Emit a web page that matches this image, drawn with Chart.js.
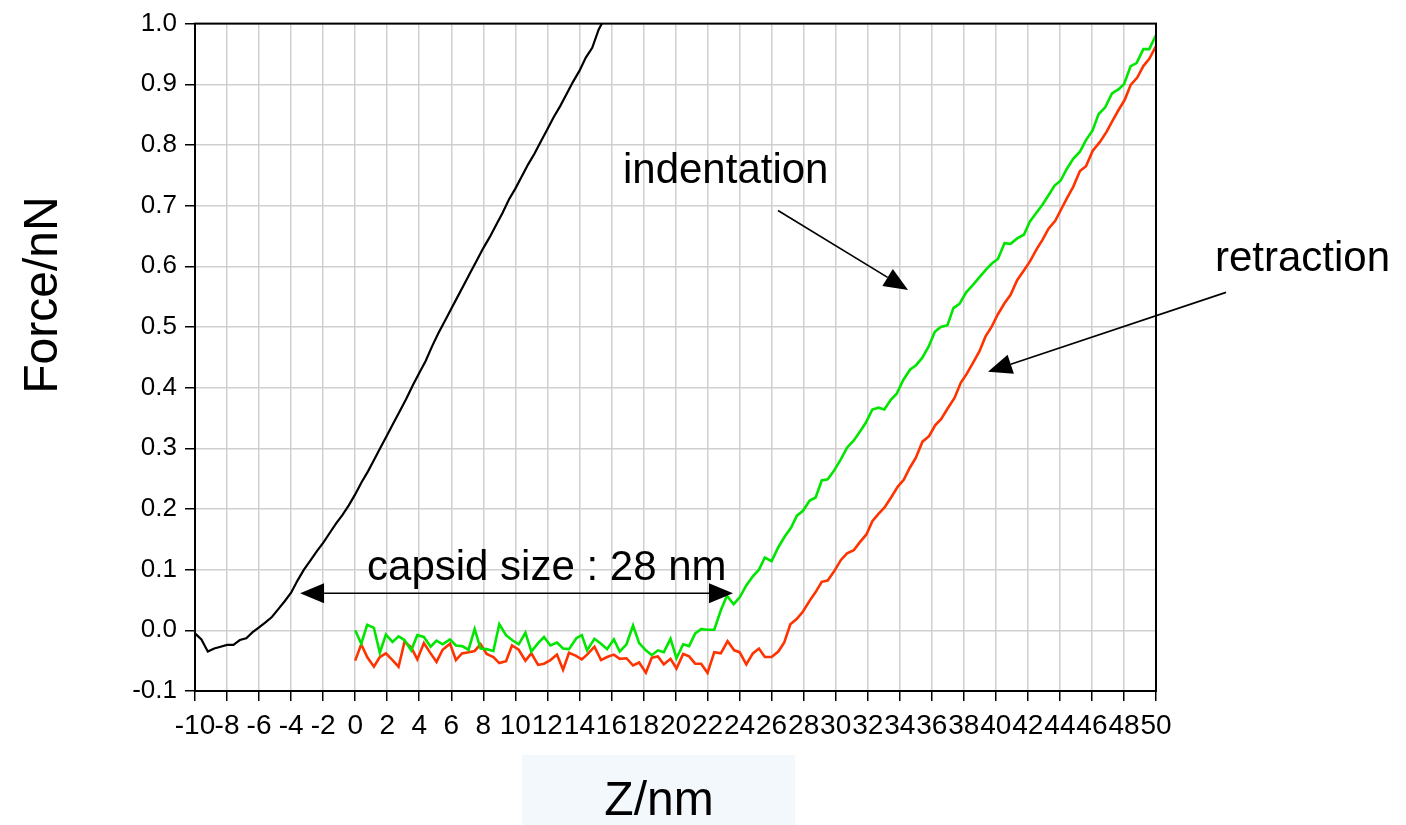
<!DOCTYPE html>
<html>
<head>
<meta charset="utf-8">
<script src="https://cdn.jsdelivr.net/npm/chart.js@4.4.1/dist/chart.umd.min.js"></script>
<style>
  body { margin: 0; background: #fff; }
  canvas { display: block; }
</style>
</head>
<body>
<canvas id="silaGraf" width="1406" height="825"></canvas>
<script>
// podaci procitani sa slike (Z u nm, sila u nN)
const crnaZ = [-10, -9.6, -9.2, -8.8, -8.4, -8.0, -7.6, -7.2, -6.8, -6.4, -6.0, -5.6, -5.2, -4.8, -4.4, -4.0,
    -3.6, -3.2, -2.8, -2.4, -2.0, -1.6, -1.2, -0.8, -0.4, 0.0, 0.4, 0.8, 1.2, 1.6, 2.0, 2.4, 2.8, 3.2, 3.6,
    4.0, 4.4, 4.8, 5.2, 5.6, 6.0, 6.4, 6.8, 7.2, 7.6, 8.0, 8.4, 8.8, 9.2, 9.6, 10.0, 10.4, 10.8, 11.2, 11.6,
    12.0, 12.4, 12.8, 13.2, 13.6, 14.0, 14.4, 14.8, 15.2, 15.6];
const crnaSila = [-0.005, -0.015, -0.035, -0.03, -0.027, -0.024, -0.024, -0.016, -0.013, -0.003, 0.005, 0.013,
    0.022, 0.035, 0.048, 0.062, 0.082, 0.1, 0.115, 0.13, 0.144, 0.16, 0.176, 0.19, 0.206, 0.224, 0.244, 0.262,
    0.282, 0.302, 0.322, 0.342, 0.362, 0.382, 0.404, 0.424, 0.444, 0.468, 0.49, 0.51, 0.53, 0.55, 0.57, 0.59,
    0.61, 0.63, 0.648, 0.668, 0.688, 0.71, 0.728, 0.748, 0.768, 0.786, 0.806, 0.826, 0.846, 0.864, 0.884,
    0.904, 0.922, 0.944, 0.96, 0.99, 1.01];

const zelenaZ = [0.0, 0.38, 0.75, 1.17, 1.54, 1.92, 2.33, 2.71, 3.08, 3.5, 3.88, 4.29, 4.71, 5.08, 5.46, 5.92,
    6.29, 6.67, 7.08, 7.46, 7.83, 8.21, 8.63, 9.0, 9.42, 9.79, 10.21, 10.63, 11.0, 11.42, 11.79, 12.19, 12.6,
    12.98, 13.35, 13.81, 14.15, 14.48, 14.94, 15.35, 15.73, 16.15, 16.52, 16.94, 17.35, 17.73, 18.15, 18.52,
    18.9, 19.27, 19.69, 20.06, 20.48, 20.85, 21.23, 21.6, 22.0, 22.42, 22.83, 23.21, 23.63, 24.0, 24.42,
    24.83, 25.21, 25.58, 26.0, 26.42, 26.83, 27.21, 27.58, 27.96, 28.38, 28.75, 29.13, 29.5, 29.92, 30.33,
    30.71, 31.13, 31.5, 31.88, 32.29, 32.67, 33.04, 33.44, 33.81, 34.23, 34.65, 35.02, 35.4, 35.81, 36.19,
    36.56, 36.98, 37.35, 37.73, 38.15, 38.56, 38.98, 39.4, 39.77, 40.13, 40.54, 40.92, 41.33, 41.75, 42.13,
    42.5, 42.92, 43.29, 43.67, 44.04, 44.42, 44.83, 45.25, 45.63, 46.04, 46.42, 46.83, 47.25, 47.67, 48.0,
    48.42, 48.79, 49.21, 49.58, 50.0];
const zelenaSila = [0.0, -0.022, 0.009, 0.004, -0.037, -0.007, -0.019, -0.01, -0.016, -0.033, -0.008, -0.011,
    -0.027, -0.017, -0.023, -0.015, -0.025, -0.026, -0.032, 0.002, -0.03, -0.031, -0.034, 0.01, -0.008,
    -0.016, -0.023, -0.004, -0.035, -0.021, -0.011, -0.025, -0.02, -0.03, -0.031, -0.013, -0.008, -0.033,
    -0.014, -0.022, -0.031, -0.015, -0.035, -0.023, 0.008, -0.021, -0.033, -0.041, -0.033, -0.036, -0.014,
    -0.046, -0.023, -0.026, -0.005, 0.002, 0.001, 0.001, 0.033, 0.057, 0.043, 0.054, 0.074, 0.089, 0.1, 0.12,
    0.114, 0.137, 0.155, 0.169, 0.189, 0.197, 0.214, 0.219, 0.247, 0.249, 0.264, 0.282, 0.301, 0.313, 0.327,
    0.342, 0.364, 0.367, 0.364, 0.38, 0.39, 0.413, 0.43, 0.437, 0.449, 0.468, 0.492, 0.5, 0.503, 0.531, 0.538,
    0.557, 0.569, 0.582, 0.595, 0.605, 0.612, 0.638, 0.637, 0.646, 0.652, 0.674, 0.687, 0.702, 0.717, 0.733,
    0.741, 0.76, 0.777, 0.789, 0.808, 0.824, 0.851, 0.862, 0.885, 0.892, 0.9, 0.93, 0.935, 0.958, 0.958, 0.981];

const crvenaZ = [0.0, 0.38, 0.75, 1.17, 1.54, 1.92, 2.33, 2.71, 3.08, 3.5, 3.88, 4.29, 4.71, 5.08, 5.46, 5.92,
    6.29, 6.67, 7.08, 7.46, 7.83, 8.21, 8.63, 9.0, 9.42, 9.79, 10.21, 10.63, 11.0, 11.42, 11.79, 12.19, 12.6,
    12.98, 13.35, 13.79, 14.15, 14.48, 14.94, 15.35, 15.73, 16.15, 16.52, 16.94, 17.35, 17.73, 18.15, 18.52,
    18.9, 19.27, 19.69, 20.06, 20.48, 20.85, 21.23, 21.6, 22.0, 22.42, 22.83, 23.25, 23.67, 24.0, 24.42,
    24.83, 25.21, 25.58, 26.0, 26.42, 26.79, 27.17, 27.58, 27.96, 28.38, 28.75, 29.13, 29.5, 29.92, 30.33,
    30.71, 31.13, 31.5, 31.92, 32.29, 32.67, 33.04, 33.46, 33.88, 34.25, 34.63, 35.0, 35.42, 35.83, 36.21,
    36.58, 37.0, 37.42, 37.81, 38.19, 38.6, 38.98, 39.35, 39.73, 40.13, 40.54, 40.92, 41.33, 41.75, 42.13,
    42.54, 42.92, 43.29, 43.71, 44.08, 44.46, 44.83, 45.25, 45.63, 46.04, 46.5, 46.92, 47.29, 47.67, 48.04,
    48.42, 48.83, 49.21, 49.58, 50.0];
const crvenaSila = [-0.05, -0.023, -0.044, -0.06, -0.044, -0.038, -0.049, -0.06, -0.019, -0.028, -0.048,
    -0.021, -0.038, -0.052, -0.032, -0.022, -0.049, -0.038, -0.036, -0.034, -0.023, -0.039, -0.044, -0.054,
    -0.051, -0.025, -0.032, -0.05, -0.038, -0.057, -0.055, -0.049, -0.04, -0.065, -0.037, -0.042, -0.048,
    -0.04, -0.027, -0.049, -0.044, -0.04, -0.047, -0.046, -0.058, -0.053, -0.07, -0.045, -0.043, -0.056,
    -0.047, -0.063, -0.039, -0.043, -0.055, -0.055, -0.07, -0.036, -0.038, -0.018, -0.033, -0.036, -0.056,
    -0.038, -0.03, -0.044, -0.044, -0.035, -0.02, 0.01, 0.019, 0.031, 0.049, 0.063, 0.08, 0.082, 0.098, 0.116,
    0.127, 0.132, 0.145, 0.158, 0.18, 0.192, 0.202, 0.219, 0.237, 0.248, 0.268, 0.284, 0.311, 0.32, 0.338,
    0.348, 0.366, 0.383, 0.408, 0.423, 0.442, 0.46, 0.484, 0.5, 0.521, 0.539, 0.553, 0.577, 0.593, 0.608,
    0.628, 0.644, 0.662, 0.675, 0.694, 0.713, 0.731, 0.757, 0.765, 0.79, 0.805, 0.822, 0.84, 0.858, 0.874,
    0.899, 0.911, 0.93, 0.942, 0.963];

const xOsa = { min: -10, max: 50, korak: 2 };
const yOsa = { min: -0.1, max: 1.0, korak: 0.1 };

const FONT = '"Liberation Sans", Arial, sans-serif';

function tacke(zs, sile) {
    return zs.map((z, i) => ({ x: z, y: sile[i] }));
}

function strelica(ctx, x1, y1, x2, y2, obje) {
    const ugao = Math.atan2(y2 - y1, x2 - x1);
    const duz = 24, pola = 10;
    ctx.beginPath();
    ctx.moveTo(obje ? x1 + Math.cos(ugao) * duz : x1, obje ? y1 + Math.sin(ugao) * duz : y1);
    ctx.lineTo(x2 - Math.cos(ugao) * duz, y2 - Math.sin(ugao) * duz);
    ctx.stroke();
    const glava = (tx, ty, a) => {
        ctx.beginPath();
        ctx.moveTo(tx, ty);
        ctx.lineTo(tx - Math.cos(a) * duz - Math.sin(a) * pola, ty - Math.sin(a) * duz + Math.cos(a) * pola);
        ctx.lineTo(tx - Math.cos(a) * duz + Math.sin(a) * pola, ty - Math.sin(a) * duz - Math.cos(a) * pola);
        ctx.closePath();
        ctx.fill();
    };
    glava(x2, y2, ugao);
    if (obje) glava(x1, y1, ugao + Math.PI);
}

// natpisi i strelice, polozaj u jedinicama osa
const natpisi = {
    id: 'natpisi',
    afterDatasetsDraw(chart) {
        const ctx = chart.ctx;
        const sx = chart.scales.x, sy = chart.scales.y;
        const px = v => sx.getPixelForValue(v);
        const py = v => sy.getPixelForValue(v);
        ctx.save();
        ctx.fillStyle = '#000';
        ctx.strokeStyle = '#000';
        ctx.lineWidth = 1.6;
        ctx.font = '42px ' + FONT;
        ctx.textBaseline = 'alphabetic';
        ctx.textAlign = 'left';
        ctx.fillText('indentation', px(16.72), py(0.738));
        ctx.fillText('retraction', px(53.68), py(0.592));
        ctx.fillText('capsid size : 28 nm', px(0.74), py(0.083));
        strelica(ctx, px(26.4), py(0.692), px(34.52), py(0.561), false);
        strelica(ctx, px(54.37), py(0.557), px(39.51), py(0.426), false);
        strelica(ctx, px(-3.44), py(0.061), px(23.59), py(0.061), true);
        ctx.restore();
    },
    afterDraw(chart) {
        const ctx = chart.ctx;
        const a = chart.chartArea;
        ctx.save();
        // okvir oko grafa
        ctx.strokeStyle = '#000';
        ctx.lineWidth = 2;
        ctx.strokeRect(a.left, a.top, a.right - a.left, a.bottom - a.top);
        // naslov x ose sa pozadinom
        ctx.fillStyle = '#f3f8fc';
        ctx.fillRect(522, 755, 273, 70);
        ctx.fillStyle = '#000';
        ctx.font = '48px ' + FONT;
        ctx.textAlign = 'center';
        ctx.textBaseline = 'alphabetic';
        ctx.fillText('Z/nm', 659, 815);
        // naslov y ose
        ctx.translate(57, 295);
        ctx.rotate(-Math.PI / 2);
        ctx.fillText('Force/nN', 0, 0);
        ctx.restore();
    }
};

const ctx = document.getElementById('silaGraf').getContext('2d');
const grafik = new Chart(ctx, {
    type: 'scatter',
    data: {
        datasets: [
            { label: 'approach', data: tacke(crnaZ, crnaSila), borderColor: '#000000', borderWidth: 2.2 },
            { label: 'indentation', data: tacke(zelenaZ, zelenaSila), borderColor: '#00e600', borderWidth: 2.6 },
            { label: 'retraction', data: tacke(crvenaZ, crvenaSila), borderColor: '#ff3300', borderWidth: 2.6 }
        ].map(d => Object.assign(d, { showLine: true, pointRadius: 0, fill: false, tension: 0 }))
    },
    options: {
        responsive: false,
        animation: false,
        layout: { padding: { top: 20, right: 250, left: 0, bottom: 0 } },
        plugins: { legend: { display: false }, tooltip: { enabled: false } },
        scales: {
            x: {
                type: 'linear',
                min: xOsa.min,
                max: xOsa.max,
                afterFit: s => { s.height = 134; },
                ticks: {
                    stepSize: xOsa.korak,
                    autoSkip: false,
                    maxRotation: 0,
                    color: '#000',
                    padding: 8,
                    font: { family: FONT, size: 28 }
                },
                grid: { color: '#d0d0d0', lineWidth: 1.5, tickColor: '#000', tickLength: 10, tickWidth: 1.5 },
                border: { color: '#000', width: 2 }
            },
            y: {
                type: 'linear',
                min: yOsa.min,
                max: yOsa.max,
                afterFit: s => { s.width = 195; },
                ticks: {
                    stepSize: yOsa.korak,
                    color: '#000',
                    padding: 8,
                    font: { family: FONT, size: 26 },
                    callback: v => v.toFixed(1)
                },
                grid: { color: '#d0d0d0', lineWidth: 1.5, tickColor: '#000', tickLength: 10, tickWidth: 1.5 },
                border: { color: '#000', width: 2 }
            }
        }
    },
    plugins: [natpisi]
});
</script>
</body>
</html>
